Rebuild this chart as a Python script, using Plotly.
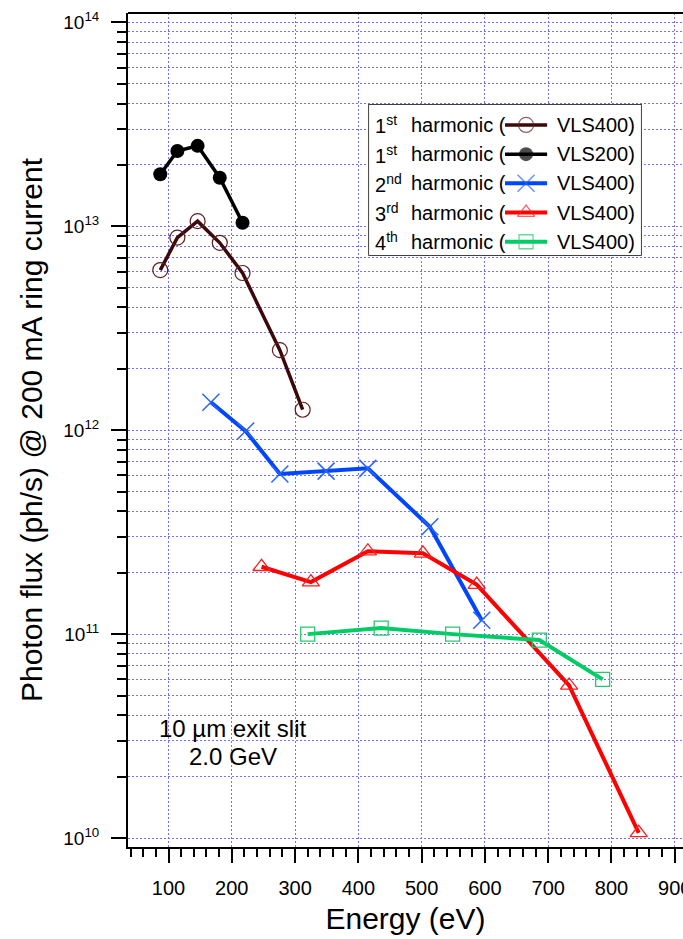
import plotly.graph_objects as go

# ---- data: photon flux vs photon energy for each harmonic / grating ----
energy_h1_vls400 = [87, 114, 146, 181, 217, 276, 312]
flux_h1_vls400 = [6.1e12, 8.8e12, 1.06e13, 8.3e12, 5.9e12, 2.47e12, 1.26e12]

energy_h1_vls200 = [87, 114, 146, 181, 217]
flux_h1_vls200 = [1.80e13, 2.34e13, 2.48e13, 1.73e13, 1.04e13]

energy_h2_vls400 = [167, 222, 276, 349, 415, 513, 595]
flux_h2_vls400 = [1.37e12, 9.9e11, 6.1e11, 6.3e11, 6.5e11, 3.36e11, 1.17e11]

energy_h3_vls400 = [247, 325, 415, 502, 587, 733, 843]
flux_h3_vls400 = [2.14e11, 1.80e11, 2.55e11, 2.49e11, 1.75e11, 5.6e10, 1.06e10]

energy_h4_vls400 = [320, 436, 549, 686, 786]
flux_h4_vls400 = [1.0e11, 1.07e11, 1.0e11, 9.35e10, 6.0e10]

x_ticks = [100, 200, 300, 400, 500, 600, 700, 800, 900]
y_decades = [10, 11, 12, 13, 14]

FONT = "Liberation Sans, Arial, Helvetica, sans-serif"
GRID = "rgb(115,115,255)"

series = [
    dict(ordinal="1<sup>st</sup>", grating="VLS400", x=energy_h1_vls400, y=flux_h1_vls400,
         line="rgb(60,8,8)", symbol="circle-open", mcolor="rgb(95,30,30)", size=15, mw=1.2, lw=3.5),
    dict(ordinal="1<sup>st</sup>", grating="VLS200", x=energy_h1_vls200, y=flux_h1_vls200,
         line="black", symbol="circle", mcolor="black", size=14, mw=0, lw=3.5),
    dict(ordinal="2<sup>nd</sup>", grating="VLS400", x=energy_h2_vls400, y=flux_h2_vls400,
         line="rgb(0,70,255)", symbol="x-thin-open", mcolor="rgb(40,100,255)", size=17, mw=1.5, lw=4),
    dict(ordinal="3<sup>rd</sup>", grating="VLS400", x=energy_h3_vls400, y=flux_h3_vls400,
         line="rgb(255,0,0)", symbol="triangle-up-open", mcolor="rgb(255,30,30)", size=15, mw=1.3, lw=4),
    dict(ordinal="4<sup>th</sup>", grating="VLS400", x=energy_h4_vls400, y=flux_h4_vls400,
         line="rgb(0,204,102)", symbol="square-open", mcolor="rgb(40,200,110)", size=14, mw=1.3, lw=4),
]

fig = go.Figure()

for s in series:
    fig.add_trace(go.Scatter(
        x=s["x"], y=s["y"], mode="lines+markers", showlegend=False,
        line=dict(color=s["line"], width=s["lw"]),
        marker=dict(symbol=s["symbol"], size=s["size"], color=s["mcolor"],
                    line=dict(color=s["mcolor"], width=s["mw"])),
    ))

# ---- hand-built legend on its own small axes (unit square inside the box) ----
row_top, row_step = 0.862, 0.1925
sample_x0, sample_xm, sample_x1 = 0.50, 0.577, 0.654
annotations = []
for i, s in enumerate(series):
    ry = row_top - i * row_step
    fig.add_trace(go.Scatter(
        x=[sample_x0, sample_xm, sample_x1], y=[ry, ry, ry], xaxis="x2", yaxis="y2",
        mode="lines+markers", showlegend=False, hoverinfo="skip",
        line=dict(color=s["line"], width=s["lw"]),
        marker=dict(symbol=s["symbol"], size=[0, s["size"], 0], color=s["mcolor"],
                    line=dict(color=s["mcolor"], width=s["mw"])),
    ))
    for txt, xpos in ((s["ordinal"], 0.017), ("harmonic (", 0.149), (s["grating"] + ")", 0.683)):
        annotations.append(dict(
            text=txt, x=xpos, y=ry, xref="x2", yref="y2", xanchor="left", yanchor="middle",
            showarrow=False, font=dict(family=FONT, size=20, color="black"),
        ))

# beamline conditions, one line per annotation for tight spacing
for txt, ypos in (("10 \u00b5m exit slit", 0.1415), ("2.0 GeV", 0.108)):
    annotations.append(dict(
        text=txt, x=0.19, y=ypos, xref="paper", yref="paper",
        xanchor="center", yanchor="middle", showarrow=False,
        font=dict(family=FONT, size=24, color="black"),
    ))

y_minor = [m * 10.0 ** d for d in range(9, 15) for m in range(2, 10)]

fig.update_layout(
    width=683, height=939,
    margin=dict(l=128, r=0, t=13, b=92, autoexpand=False),
    paper_bgcolor="white", plot_bgcolor="white",
    font=dict(family=FONT, color="black"),
    annotations=annotations,
    xaxis=dict(
        range=[36, 913], tickvals=x_ticks, ticks="outside", ticklen=14, tickwidth=1.5,
        tickcolor="black", showline=True, linewidth=2, linecolor="black", mirror=False,
        showgrid=True, gridcolor=GRID, gridwidth=1, griddash="2px,2px", zeroline=False,
        tickfont=dict(size=20), ticklabelstandoff=8, ticklabeloverflow="allow",
        automargin=False,
        minor=dict(dtick=20, tick0=0, ticks="outside", ticklen=8, tickwidth=1.5,
                   tickcolor="black", showgrid=False),
        title=dict(text="Energy (eV)", font=dict(size=30), standoff=10),
    ),
    yaxis=dict(
        type="log", range=[9.956, 14.046],
        tickvals=[10.0 ** d for d in y_decades],
        ticktext=["10<sup>%d</sup>" % d for d in y_decades],
        ticks="outside", ticklen=15, tickwidth=1.5, tickcolor="black",
        showline=True, linewidth=2, linecolor="black", mirror=False,
        showgrid=True, gridcolor=GRID, gridwidth=1, griddash="2px,2px", zeroline=False,
        tickfont=dict(size=19), ticklabelstandoff=8, automargin=False,
        minor=dict(tickvals=y_minor, ticks="outside", ticklen=9, tickwidth=1.5,
                   tickcolor="black", showgrid=True, gridcolor=GRID, gridwidth=1,
                   griddash="2px,2px"),
        title=dict(text="Photon flux (ph/s) @ 200 mA ring current", font=dict(size=30),
                   standoff=12),
    ),
    xaxis2=dict(domain=[0.433, 0.9256], range=[0, 1], visible=False, fixedrange=True),
    yaxis2=dict(domain=[0.709, 0.8909], range=[0, 1], visible=False, fixedrange=True),
    shapes=[
        # top frame edge of the main plot
        dict(type="line", xref="paper", yref="paper", x0=0, x1=1, y0=1, y1=1,
             line=dict(color="black", width=2), layer="above"),
        # legend box
        dict(type="rect", xref="x2", yref="y2", x0=0, x1=1, y0=0, y1=1,
             fillcolor="white", line=dict(color="black", width=1.5), layer="below"),
    ],
)

fig.write_html("out.html")
